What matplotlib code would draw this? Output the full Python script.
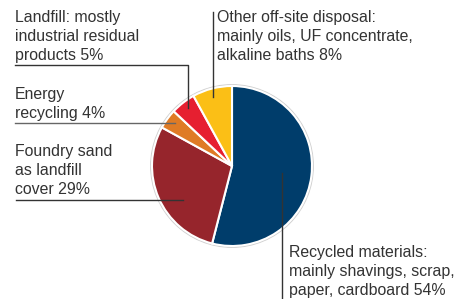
import matplotlib
matplotlib.use("Agg")
import matplotlib.pyplot as plt

# Data
categories = ["Recycled materials", "Foundry sand", "Energy recycling", "Landfill", "Other off-site disposal"]
shares = [54, 29, 4, 5, 8]
colors = ["#003d6b", "#96252c", "#df7b25", "#e61f30", "#fbbf16"]
labels = [
    "Recycled materials:\nmainly shavings, scrap,\npaper, cardboard 54%",
    "Foundry sand\nas landfill\ncover 29%",
    "Energy\nrecycling 4%",
    "Landfill: mostly\nindustrial residual\nproducts 5%",
    "Other off-site disposal:\nmainly oils, UF concentrate,\nalkaline baths 8%",
]

W, H = 454, 299
fig = plt.figure(figsize=(W / 100, H / 100), dpi=100)
ax = fig.add_axes([0, 0, 1, 1])

cx, cy, r = 232, 166, 80
outline = plt.Circle((cx, cy), r + 1.2, color="#d0d0d0", zorder=1)
ax.add_patch(outline)
# y axis inverted: counterclock=True renders clockwise visually; startangle -90 = top
ax.pie(shares, colors=colors, center=(cx, cy), radius=r, startangle=-90,
       counterclock=True, wedgeprops=dict(edgecolor="white", linewidth=1.5, zorder=2),
       frame=True)
ax.set_xlim(0, W)
ax.set_ylim(H, 0)
ax.set_aspect("equal")
ax.axis("off")

font = dict(family=["Liberation Sans", "DejaVu Sans"], fontsize=11.4, color="#333333",
            linespacing=1.35)
lc = "#333333"
lw = 1.0

# Landfill
ax.text(15, 10, labels[3], ha="left", va="top", **font)
ax.plot([15, 188, 188], [65, 65, 108], color=lc, lw=lw, zorder=5)
# Energy
ax.text(15, 87, labels[2], ha="left", va="top", **font)
ax.plot([15, 175], [123, 123], color="#666666", lw=lw, zorder=5)
# Foundry
ax.text(15, 144, labels[1], ha="left", va="top", **font)
ax.plot([16, 183], [200, 200], color=lc, lw=lw, zorder=5)
# Other
ax.text(217, 10, labels[4], ha="left", va="top", **font)
ax.plot([213, 213], [12, 97], color=lc, lw=lw, zorder=5)
# Recycled
ax.text(289, 245, labels[0], ha="left", va="top", **font)
ax.plot([282, 282], [173, 299], color=lc, lw=lw, zorder=5)

fig.savefig("out.png", dpi=100)
